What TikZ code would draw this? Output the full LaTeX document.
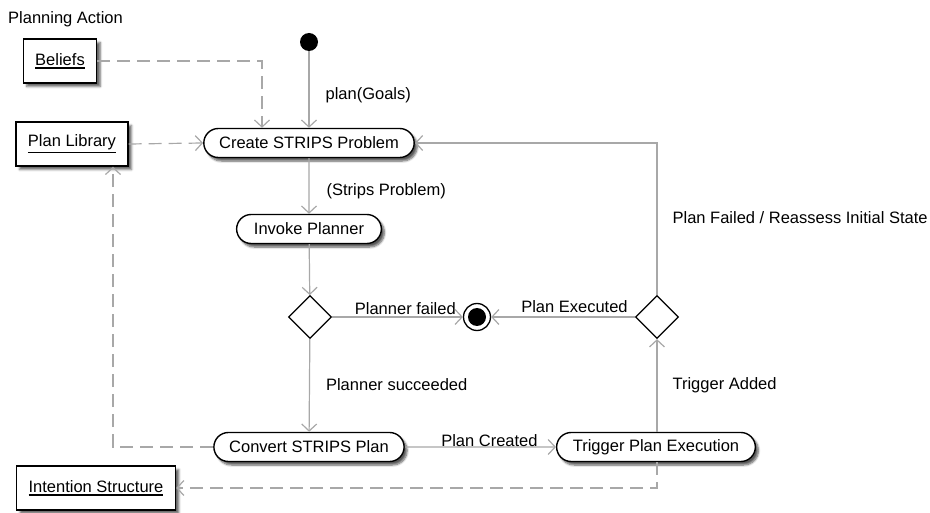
\documentclass[tikz,border=0pt]{standalone}
\usepackage{fontspec}
\setmainfont{Liberation Sans}
\usetikzlibrary{shapes.misc,shapes.geometric,arrows.meta,shadows.blur}
\definecolor{lgray}{HTML}{A8A8A8}
\newcommand\myul[1]{\leavevmode\vtop{\hbox{#1}\kern1.6pt\hrule height 1.5pt}}
\begin{document}
\begin{tikzpicture}[x=1pt,y=-1pt,
  font=\fontsize{16.5}{19}\selectfont,
  act/.style={rounded rectangle, draw=black, line width=1.4pt, fill=white,
    minimum height=29pt, inner xsep=14pt, inner ysep=0pt,
    blur shadow={shadow xshift=3pt, shadow yshift=-3.5pt, shadow blur steps=6, shadow opacity=65}},
  obj/.style={rectangle, draw=black, line width=1.4pt, fill=white,
    minimum height=44pt, inner xsep=12pt,
    blur shadow={shadow xshift=3.5pt, shadow yshift=-3.5pt, shadow blur steps=4, shadow opacity=60}},
  dec/.style={diamond, draw=black, line width=1.3pt, fill=white, aspect=1,
    minimum width=43pt, minimum height=43pt, inner sep=0pt},
  flow/.style={draw=lgray, line width=1.2pt, -{Straight Barb[length=7pt,width=15pt]}},
  dep/.style={flow, dash pattern=on 13pt off 7pt},
  lbl/.style={inner sep=0pt, text=black}
]
\useasboundingbox (0,0) rectangle (930,513);

\node[lbl, anchor=west] (title) at (8,19) {Planning Action};

\node[obj] (beliefs) at (60,61) {\myul{Beliefs}};
\node[obj] (planlib) at (72,144) {\myul{Plan Library}};
\node[obj] (intent) at (96,488) {\myul{Intention Structure}};

\node[circle, fill=black, minimum size=18pt, inner sep=0pt] (start) at (309,42) {};
\node[act] (create) at (309,143) {Create STRIPS Problem};
\node[act, inner xsep=16pt] (invoke) at (309,229) {Invoke Planner};
\node[dec] (d1) at (310,317) {};
\node[circle, draw=black, line width=1.3pt, fill=white, minimum size=27pt, inner sep=0pt] (final) at (477,317) {};
\node[circle, fill=black, minimum size=18pt, inner sep=0pt] (finaldot) at (477,317) {};
\node[dec] (d2) at (657,317) {};
\node[act] (convert) at (309,447) {Convert STRIPS Plan};
\node[act] (trigger) at (656,447) {Trigger Plan Execution};

% connectors
\draw[dep] (beliefs.east) -| ([xshift=-47pt]create.north);
\draw[dep] (planlib.east) -- (create.west);
\draw[flow] (start) -- node[lbl, anchor=west, xshift=16pt, pos=0.58] (lplan) {plan(Goals)} (create.north -| start);
\draw[flow] (create) -- node[lbl, anchor=west, xshift=17pt, pos=0.6] (lstrips) {(Strips Problem)} (invoke);
\draw[flow] (invoke) -- (d1);
\draw[flow] (d1) -- node[lbl, anchor=south, yshift=2pt, pos=0.56] (lfail) {Planner failed} (final);
\draw[flow] (d1) -- node[lbl, anchor=west, xshift=16pt, pos=0.49] (lsucc) {Planner succeeded} (convert);
\draw[dep] (convert.west) -| ([xshift=41pt]planlib.south);
\draw[flow] (convert) -- node[lbl, anchor=south, yshift=0pt, pos=0.56] (lcreated) {Plan Created} (trigger);
\draw[dep] (trigger.south -| d2) |- (intent.east);
\draw[flow] (trigger.north -| d2) -- node[lbl, anchor=west, xshift=15pt, pos=0.5] (ladded) {Trigger Added} (d2);
\draw[flow] (d2) -- node[lbl, anchor=south, yshift=4pt, pos=0.42] (lexec) {Plan Executed} (final);
\draw[flow] (d2.north) |- node[lbl, anchor=west, xshift=15pt, pos=0.255] (lreassess) {Plan Failed / Reassess Initial State} (create.east);
\end{tikzpicture}
\end{document}
